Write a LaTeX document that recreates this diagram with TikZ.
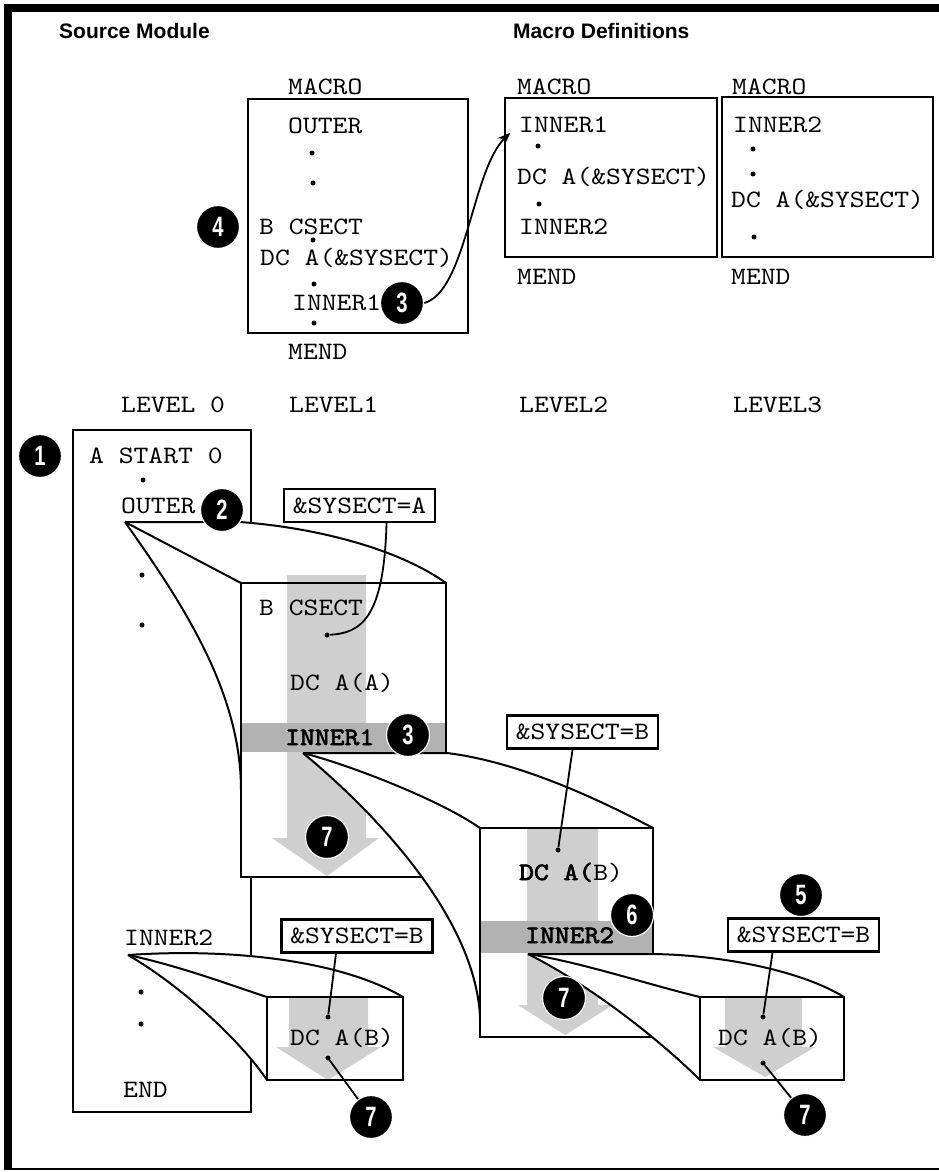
\documentclass[tikz,border=0pt]{standalone}
\usepackage{fontspec}
\setmainfont{Liberation Serif}
\setsansfont{Liberation Sans}
\setmonofont{lmmono10-regular.otf}[FakeStretch=1.13, BoldFont=lmmono10-regular.otf, BoldFeatures={FakeBold=2.5}]
\newfontfamily\numfont[FakeStretch=0.72]{Liberation Sans}
\usetikzlibrary{arrows.meta}
\begin{document}
\begin{tikzpicture}[x=1pt,y=-1pt,
  mono/.style={font=\ttfamily\fontsize{25}{28}\selectfont, inner sep=0pt, anchor=base west},
  monob/.style={font=\ttfamily\bfseries\fontsize{25}{28}\selectfont, inner sep=0pt, anchor=base west},
  hdr/.style={font=\sffamily\bfseries\fontsize{21}{24}\selectfont, inner sep=0pt, anchor=base west},
  num/.style={circle, fill=black, draw=white, line width=1.2pt, minimum size=43pt, inner sep=0pt, text=white, font=\numfont\bfseries\fontsize{28}{28}\selectfont},
  boxline/.style={draw=black, line width=2.4pt},
  fanline/.style={draw=black, line width=2pt},
  pt/.style={circle, fill=black, inner sep=0pt, minimum size=5pt},
  eqbox/.style={draw=black, line width=2.4pt, fill=white, inner sep=0pt, minimum width=151pt, minimum height=33pt, font=\ttfamily\fontsize{25}{28}\selectfont},
  flowv/.style={fill=gray!38},
  flowh/.style={fill=gray!60},
  conn/.style={draw=black, line width=1.8pt},
]
\useasboundingbox (0,0) rectangle (939,1172);
\fill[white] (0,0) rectangle (939,1172);
% frame
\draw[line width=8pt] (8,1170) -- (8,8) -- (939,8);
\draw[line width=2.4pt] (8,1169) -- (939,1169);

% headers
\node[hdr] (hsrc) at (59,39) {Source Module};
\node[hdr] (hmac) at (513,38) {Macro Definitions};

% ---------------- macro definitions ----------------
\draw[boxline] (248,99) rectangle (468,333);
\node[mono] (m1mac) at (288,94) {MACRO};
\node[mono] (m1out) at (288,133) {OUTER};
\node[pt] (m1d1) at (312,153) {};
\node[pt] (m1d2) at (313,183) {};
\node[mono] (m1cs) at (259,234) {B CSECT};
\node[pt] (m1d3) at (313,240) {};
\node[mono] (m1dc) at (260,265) {DC A(\&SYSECT)};
\node[pt] (m1d4) at (314,284) {};
\node[mono] (m1in) at (292,310) {INNER1};
\node[pt] (m1d5) at (314,323) {};
\node[mono] (m1end) at (288,359) {MEND};

\draw[boxline] (505,98) rectangle (717,257);
\node[mono] (m2mac) at (517,94) {MACRO};
\node[mono] (m2in1) at (519,132) {INNER1};
\node[pt] (m2d1) at (538,146) {};
\node[mono] (m2dc) at (517,184) {DC A(\&SYSECT)};
\node[pt] (m2d2) at (539,204) {};
\node[mono] (m2in2) at (519,234) {INNER2};
\node[mono] (m2end) at (517,284) {MEND};

\draw[boxline] (722,97) rectangle (933,257);
\node[mono] (m3mac) at (732,94) {MACRO};
\node[mono] (m3in2) at (733,132) {INNER2};
\node[pt] (m3d1) at (753,149) {};
\node[pt] (m3d2) at (753,174) {};
\node[mono] (m3dc) at (731,207) {DC A(\&SYSECT)};
\node[pt] (m3d3) at (754,237) {};
\node[mono] (m3end) at (731,284) {MEND};

% level labels
\node[mono] (lv0) at (121,412) {LEVEL 0};
\node[mono] (lv1) at (289,412) {LEVEL1};
\node[mono] (lv2) at (519,412) {LEVEL2};
\node[mono] (lv3) at (733,412) {LEVEL3};

% ---------------- level 0 ----------------
\draw[boxline, fill=white] (73,430) rectangle (251,1112);
\node[mono] (l0a) at (89,463) {A START 0};
\node[pt] (l0d1) at (143,480) {};
\node[mono] (l0out) at (121,513) {OUTER};
\node[pt] (l0d2) at (142,575) {};
\node[pt] (l0d3) at (142,625) {};
\node[mono] (l0in2) at (124,945) {INNER2};
\node[pt] (l0d4) at (141,992) {};
\node[pt] (l0d5) at (141,1024) {};
\node[mono] (l0end) at (123,1097) {END};

% ---------------- fan 1 (OUTER -> level 1) ----------------
\coordinate (a1) at (125,522);
\coordinate (a1r) at (240,522);
\fill[white] (a1) -- (a1r) .. controls (320,528) and (400,550) .. (446,583) -- (241,583) -- (241,790) .. controls (241,690) and (180,600) .. (a1) -- cycle;
\draw[fanline] (a1) -- (a1r) .. controls (320,528) and (400,550) .. (446,583);
\draw[fanline] (a1) -- (241,583);
\draw[fanline] (a1) .. controls (180,600) and (241,690) .. (241,790);

% level 1 box
\fill[white] (241,583) rectangle (446,877);
\fill[flowv] (287,575) -- (366,575) -- (366,838) -- (379,838) -- (327,876) -- (272,838) -- (287,838) -- cycle;
\fill[flowh] (241,723) rectangle (446,752);
\draw[boxline] (241,583) rectangle (446,877);
\node[mono] (l1cs) at (259,615) {B CSECT};
\node[mono] (l1dc) at (290,690) {DC A(A)};
\node[monob] (l1in) at (285,745) {INNER1};
\node[eqbox] (eqA) at (359.5,505.5) {\&SYSECT=A};
\node[pt] (dA) at (327,635) {};
\draw[conn] ([xshift=27pt]eqA.south) .. controls (384,620) and (360,633) .. (dA);

% ---------------- fan 1b (INNER2 -> level 1) ----------------
\coordinate (a4) at (128,955);
\fill[white] (a4) .. controls (230,948) and (340,960) .. (403,997) -- (267,997) -- (267,1080) .. controls (240,1040) and (180,985) .. (a4) -- cycle;
\draw[fanline] (a4) .. controls (230,948) and (340,960) .. (403,997);
\draw[fanline] (a4) .. controls (180,966) and (230,985) .. (267,997);
\draw[fanline] (a4) .. controls (180,985) and (240,1040) .. (267,1080);

\fill[white] (267,997) rectangle (403,1080);
\fill[flowv] (289,997) -- (368,997) -- (368,1047) -- (381,1047) -- (328,1080) -- (276,1047) -- (289,1047) -- cycle;
\draw[boxline] (267,997) rectangle (403,1080);
\node[mono] (l1bdc) at (290,1045) {DC A(B)};
\node[eqbox] (eqB1) at (357,936) {\&SYSECT=B};
\node[pt] (dB1) at (328,1017) {};
\draw[conn] ([xshift=-21pt]eqB1.south) -- (dB1);
\node[pt] (dB1b) at (328,1058) {};

% ---------------- fan 2 (INNER1 -> level 2) ----------------
\coordinate (a2) at (303,753);
\coordinate (a2r) at (447,753);
\fill[white] (a2) -- (a2r) .. controls (520,762) and (600,800) .. (653,828) -- (480,828) -- (480,1017) .. controls (475,910) and (360,800) .. (a2) -- cycle;
\draw[fanline] (a2) -- (a2r) .. controls (520,762) and (600,800) .. (653,828);
\draw[fanline] (a2) .. controls (350,765) and (440,800) .. (480,828);
\draw[fanline] (a2) .. controls (360,800) and (475,910) .. (480,1017);

% level 2 box
\fill[white] (480,828) rectangle (653,1037);
\fill[flowv] (527,828) -- (598,828) -- (598,1005) -- (613,1005) -- (565,1035) -- (518,1005) -- (527,1005) -- cycle;
\fill[flowh] (480,921) rectangle (653,953);
\draw[boxline] (480,828) rectangle (653,1037);
\node[mono] (l2dc) at (519,880) {\textbf{DC A(}B)};
\node[monob] (l2in) at (525,943) {INNER2};
\node[eqbox] (eqB2) at (582.5,732) {\&SYSECT=B};
\node[pt] (dB2) at (558,850) {};
\draw[conn] ([xshift=-10pt]eqB2.south) -- (dB2);

% ---------------- fan 3 (INNER2 -> level 3) ----------------
\coordinate (a3) at (528,954);
\coordinate (a3r) at (653,954);
\fill[white] (a3) -- (a3r) .. controls (720,955) and (800,970) .. (844,997) -- (700,997) -- (700,1080) .. controls (660,1040) and (590,985) .. (a3) -- cycle;
\draw[fanline] (a3) -- (a3r) .. controls (720,955) and (800,970) .. (844,997);
\draw[fanline] (a3) .. controls (580,962) and (650,985) .. (700,997);
\draw[fanline] (a3) .. controls (590,985) and (660,1040) .. (700,1080);

\fill[white] (700,997) rectangle (844,1080);
\fill[flowv] (725,997) -- (802,997) -- (802,1047) -- (815,1047) -- (765,1077) -- (713,1047) -- (725,1047) -- cycle;
\draw[boxline] (700,997) rectangle (844,1080);
\node[mono] (l3dc) at (718,1045) {DC A(B)};
\node[eqbox] (eqB3) at (803.5,935) {\&SYSECT=B};
\node[pt] (dB3) at (763,1017) {};
\draw[conn] ([xshift=-31pt]eqB3.south) -- (dB3);
\node[pt] (dB3b) at (763,1063) {};

% ---------------- numbered circles ----------------
\node[num] (c1) at (40,456) {1};
\node[num] (c2) at (222,510) {2};
\node[num] (mc3) at (402,303) {3};
\node[num] (c4) at (218,227) {4};
\node[num] (c3) at (408,735) {3};
\node[num] (c7a) at (327,837) {7};
\node[num] (c6) at (632,915) {6};
\node[num] (c7b) at (564,998) {7};
\node[num] (c5) at (801,895) {5};
\node[num] (c7c) at (371,1117) {7};
\node[num] (c7d) at (805,1115) {7};

\draw[conn] (c7c) -- (dB1b);
\draw[conn] (c7d) -- (dB3b);
\draw[conn, -{Stealth[length=13pt,width=10pt]}, shorten >=12pt] (mc3.east) .. controls (466,292) and (472,170) .. (m2in1.west);
\end{tikzpicture}
\end{document}
